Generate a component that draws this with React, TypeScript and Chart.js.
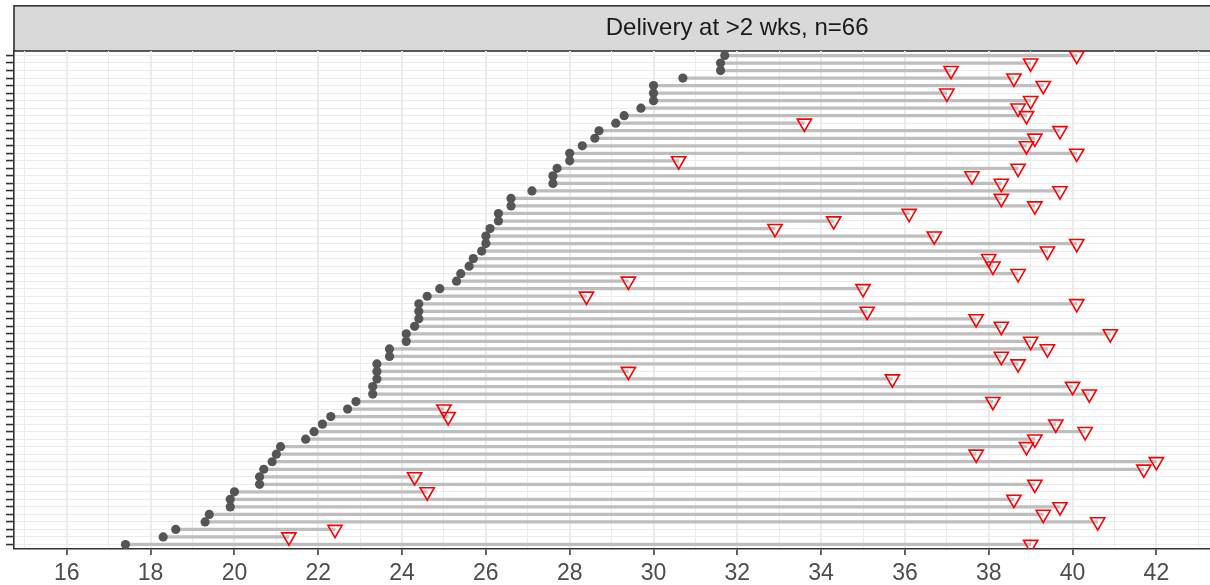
import React, { useEffect, useRef } from 'react';
import { Chart, registerables } from 'chart.js';

Chart.register(...registerables);

const panelTitle = 'Delivery at >2 wks, n=66';

// gestational age (weeks) at start of each row (grey dot), top row first
const startWeeks = [
  31.7, 31.6, 31.6, 30.7, 30.0, 30.0, 30.0, 29.7, 29.3, 29.1, 28.7, 28.6, 28.3, 28.0, 28.0,
  27.7, 27.6, 27.6, 27.1, 26.6, 26.6, 26.3, 26.3, 26.1, 26.0, 26.0, 25.9, 25.7, 25.6, 25.4,
  25.3, 24.9, 24.6, 24.4, 24.4, 24.4, 24.3, 24.1, 24.1, 23.7, 23.7, 23.4, 23.4, 23.4, 23.3,
  23.3, 22.9, 22.7, 22.3, 22.1, 21.9, 21.7, 21.1, 21.0, 20.9, 20.7, 20.6, 20.6, 20.0, 19.9,
  19.9, 19.4, 19.3, 18.6, 18.3, 17.4,
];

// gestational age (weeks) at delivery (red triangle), same row order
const deliveryWeeks = [
  40.1, 39.0, 37.1, 38.6, 39.3, 37.0, 39.0, 38.7, 38.9, 33.6, 39.7, 39.1, 38.9, 40.1, 30.6,
  38.7, 37.6, 38.3, 39.7, 38.3, 39.1, 36.1, 34.3, 32.9, 36.7, 40.1, 39.4, 38.0, 38.1, 38.7,
  29.4, 35.0, 28.4, 40.1, 35.1, 37.7, 38.3, 40.9, 39.0, 39.4, 38.3, 38.7, 29.4, 35.7, 40.0,
  40.4, 38.1, 25.0, 25.1, 39.6, 40.3, 39.1, 38.9, 37.7, 42.0, 41.7, 24.3, 39.1, 24.6, 38.6,
  39.7, 39.3, 40.6, 22.4, 21.3, 39.0,
];

const xMajorTicks = [16, 18, 20, 22, 24, 26, 28, 30, 32, 34, 36, 38, 40, 42, 44, 46, 48];
const X_MIN = 14.74;
const X_MAX = 49.25;

const FONT = "'Liberation Sans', Arial, Helvetica, sans-serif";

const stripPlugin = {
  id: 'facetStrip',
  beforeDraw(chart: any) {
    const tb = chart.titleBlock;
    const area = chart.chartArea;
    if (!tb || !area) return;
    const ctx = chart.ctx;
    ctx.save();
    const top = tb.top + 0.8;
    const h = tb.bottom - top;
    ctx.fillStyle = '#d9d9d9';
    ctx.fillRect(area.left, top, area.right - area.left, h);
    ctx.strokeStyle = '#333333';
    ctx.lineWidth = 1.6;
    ctx.strokeRect(area.left, top, area.right - area.left, h);
    ctx.restore();
  },
};

export default function App() {
  const ref = useRef<HTMLCanvasElement | null>(null);

  useEffect(() => {
    if (!ref.current) return;
    const rows = startWeeks.map((_, i) => i + 1);
    const segData = rows.map((r, i) => ({ x: [startWeeks[i], deliveryWeeks[i]], y: r }));
    const dotData = rows.map((r, i) => ({ x: startWeeks[i], y: r }));
    const triData = rows.map((r, i) => ({ x: deliveryWeeks[i], y: r }));

    const chart = new Chart(ref.current, {
      type: 'scatter',
      data: {
        datasets: [
          {
            type: 'bar',
            indexAxis: 'y',
            data: segData as any,
            backgroundColor: '#bebebe',
            borderWidth: 0,
            barThickness: 2.6,
            order: 3,
          } as any,
          {
            type: 'scatter',
            data: dotData,
            pointRadius: 4.6,
            pointBackgroundColor: '#555555',
            pointBorderWidth: 0,
            order: 2,
          } as any,
          {
            type: 'scatter',
            data: triData,
            pointStyle: 'triangle',
            rotation: 180,
            pointRadius: 8.2,
            pointBackgroundColor: 'rgba(0,0,0,0)',
            pointBorderColor: '#ff0000',
            pointBorderWidth: 1.6,
            order: 1,
          } as any,
        ],
      },
      options: {
        responsive: false,
        animation: false,
        events: [],
        layout: { padding: { left: 0, right: 8, top: 5, bottom: 0 } },
        plugins: {
          legend: { display: false },
          tooltip: { enabled: false },
          title: {
            display: true,
            text: panelTitle,
            fullSize: false,
            color: '#1a1a1a',
            font: { family: FONT, size: 24, weight: 'normal', lineHeight: 1.2 },
            padding: { top: 8.6, bottom: 8.6 },
          },
        },
        scales: {
          x: {
            type: 'linear',
            min: X_MIN,
            max: X_MAX,
            offset: false,
            afterBuildTicks: (scale: any) => {
              const t = [];
              for (let v = Math.ceil(scale.min); v <= Math.floor(scale.max); v++) t.push({ value: v });
              scale.ticks = t;
            },
            afterFit: (scale: any) => {
              scale.height = 36;
            },
            ticks: {
              autoSkip: false,
              maxRotation: 0,
              minRotation: 0,
              padding: 5,
              color: '#4d4d4d',
              font: { family: FONT, size: 23 },
              callback: (v: any) => (xMajorTicks.includes(Number(v)) ? String(v) : ''),
            },
            grid: {
              offset: false,
              color: '#ebebeb',
              lineWidth: (ctx: any) => (ctx.tick && xMajorTicks.includes(ctx.tick.value) ? 1.9 : 1.0),
              tickColor: (ctx: any) =>
                ctx.tick && xMajorTicks.includes(ctx.tick.value) ? '#333333' : 'rgba(0,0,0,0)',
              tickLength: 6,
              tickWidth: 1.5,
            },
            border: { display: true, color: '#333333', width: 1.6 },
          },
          y: {
            type: 'linear',
            reverse: true,
            min: 0.4,
            max: 66.6,
            offset: false,
            afterBuildTicks: (scale: any) => {
              scale.ticks = startWeeks.map((_, i) => ({ value: i + 1 }));
            },
            afterFit: (scale: any) => {
              scale.width = 14;
            },
            ticks: { display: false },
            grid: {
              offset: false,
              color: '#ebebeb',
              lineWidth: 1.1,
              tickColor: '#333333',
              tickLength: 8,
              tickWidth: 1.6,
            },
            border: { display: true, color: '#333333', width: 1.6 },
          },
        },
      },
      plugins: [stripPlugin],
    } as any);

    return () => chart.destroy();
  }, []);

  return (
    <div
      style={{
        position: 'fixed',
        left: 0,
        top: 0,
        width: 1210,
        height: 585,
        overflow: 'hidden',
        background: '#ffffff',
      }}
    >
      <canvas ref={ref} width={1470} height={585} style={{ display: 'block' }} />
    </div>
  );
}
